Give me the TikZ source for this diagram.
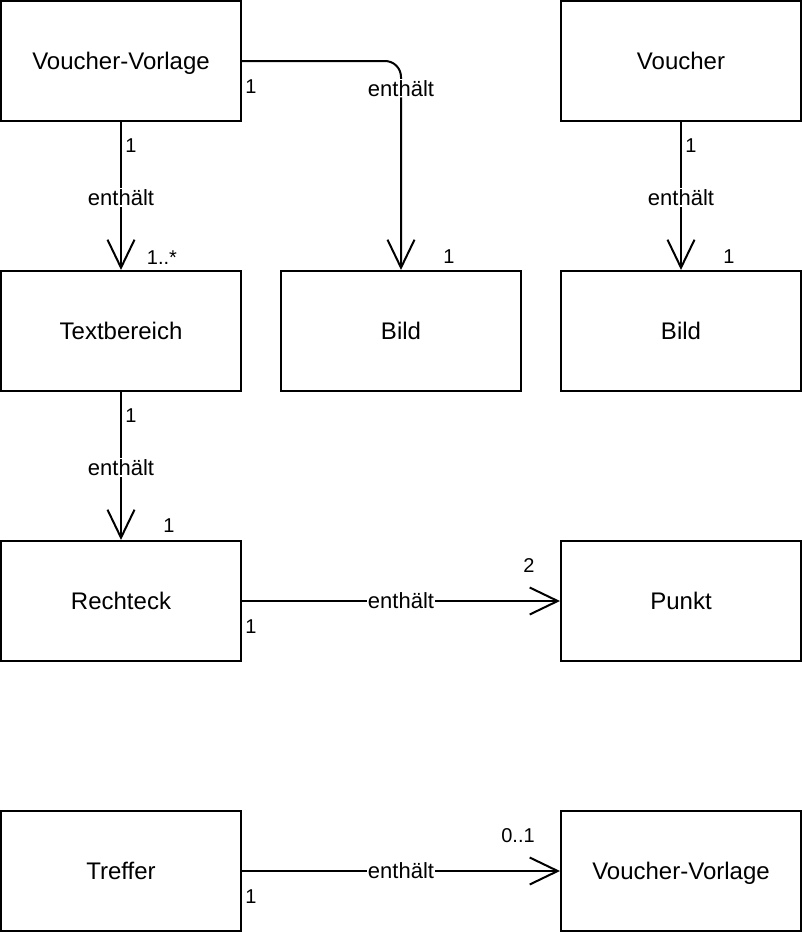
\documentclass[tikz,border=0pt]{standalone}
\usepackage{fontspec}
\setmainfont{Liberation Sans}
\usetikzlibrary{arrows.meta}

\begin{document}
\begin{tikzpicture}[x=1pt, y=-1pt,
		klasse/.style={draw, line width=2pt, minimum width=240pt, minimum height=120pt, inner sep=0pt, text height=21pt, text depth=4pt, font=\fontsize{24}{28}\selectfont},
		beziehung/.style={line width=2pt, -{Straight Barb[length=28pt, width=27pt]}},
		rolle/.style={fill=white, inner sep=1pt, font=\fontsize{22}{25}\selectfont},
		anzahl/.style={inner sep=0pt, font=\fontsize{20}{23}\selectfont}]
	\useasboundingbox (0,0) rectangle (802,932);
	% Klassen
	\node[klasse] (vorlage) at (121,61) {Voucher-Vorlage};
	\node[klasse] (voucher) at (681,61) {Voucher};
	\node[klasse] (text) at (121,331) {Textbereich};
	\node[klasse] (bildA) at (401,331) {Bild};
	\node[klasse] (bildB) at (681,331) {Bild};
	\node[klasse] (rechteck) at (121,601) {Rechteck};
	\node[klasse] (punkt) at (681,601) {Punkt};
	\node[klasse] (treffer) at (121,871) {Treffer};
	\node[klasse] (vorlageB) at (681,871) {Voucher-Vorlage};
	% Beziehungen
	\draw[beziehung, rounded corners=16pt] (vorlage.east) -| node[rolle, pos=0.565] {enthält} (bildA.north);
	\draw[beziehung] (vorlage.south) -- node[rolle, pos=0.51] {enthält} (text.north);
	\draw[beziehung] (voucher.south) -- node[rolle, pos=0.51] {enthält} (bildB.north);
	\draw[beziehung] (text.south) -- node[rolle, pos=0.51] {enthält} (rechteck.north);
	\draw[beziehung] (rechteck.east) -- node[rolle] {enthält} (punkt.west);
	\draw[beziehung] (treffer.east) -- node[rolle] {enthält} (vorlageB.west);
	% Multiplizitaeten
	\node[anzahl] (m1) at (251,87) {1};
	\node[anzahl] (m2) at (449,257) {1};
	\node[anzahl] (m3) at (131,146) {1};
	\node[anzahl] (m4) at (162,258) {1..*};
	\node[anzahl] (m5) at (691,146) {1};
	\node[anzahl] (m6) at (729,257) {1};
	\node[anzahl] (m7) at (131,416) {1};
	\node[anzahl] (m8) at (169,526) {1};
	\node[anzahl] (m9) at (251,627) {1};
	\node[anzahl] (m10) at (529,566) {2};
	\node[anzahl] (m11) at (251,897) {1};
	\node[anzahl] (m12) at (518,836) {0..1};
\end{tikzpicture}
\end{document}
